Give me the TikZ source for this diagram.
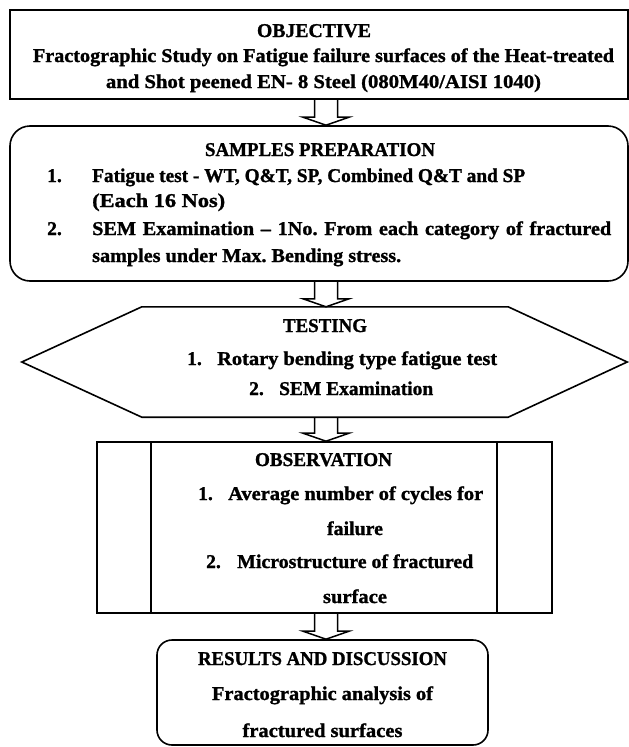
\documentclass[tikz,border=0pt]{standalone}
\usepackage{fontspec}
\setmainfont{Liberation Serif}[BoldFeatures={FakeBold=1.2}]
\usetikzlibrary{calc}
\newcommand{\W}[2]{\resizebox{#1pt}{\height}{#2}}
\frenchspacing
\begin{document}
\begin{tikzpicture}[x=1pt,y=-1pt,
  box/.style={draw, line width=1.6pt, inner sep=0pt},
  shp/.style={draw, line width=1.6pt, line join=miter},
  txt/.style={font=\bfseries\fontsize{19.5}{22}\selectfont, inner sep=0pt},
  barrow/.style={draw, line width=1.5pt, line join=miter}]
\useasboundingbox (0,0) rectangle (629,747);
\fill[white] (0,0) rectangle (629,747);
% shapes
\node[box, minimum width=618pt, minimum height=89pt] (obj) at (319,54.5) {};
\node[box, rounded corners=20pt, minimum width=618pt, minimum height=155pt] (samp) at (319,203.5) {};
\node[inner sep=0pt, minimum width=366pt, minimum height=110pt] (test) at (325,362) {};
\draw[shp] (test.north west) -- (test.north east) -- ($(test.east)+(119,0)$) -- (test.south east)
  -- (test.south west) -- ($(test.west)+(-120,0)$) -- cycle;
\node[box, minimum width=455pt, minimum height=171pt] (obs) at (324.5,527.5) {};
\draw[shp] ($(obs.north west)+(55,0)$) -- ($(obs.south west)+(55,0)$);
\draw[shp] ($(obs.north east)+(-56,0)$) -- ($(obs.south east)+(-56,0)$);
\node[box, rounded corners=15pt, minimum width=331pt, minimum height=105pt] (res) at (322.5,692.5) {};
% arrows
\coordinate (ax) at (326,0);
\newcommand{\barr}[2]{%
  \draw[barrow] ($(#1.south -| ax)+(-11.5,0)$) -- ($(#2.north -| ax)+(-11.5,-8)$) -- ++(-11.5,0)
    -- (#2.north -| ax) -- ($(#2.north -| ax)+(23,-8)$) -- ++(-11.5,0) -- ($(#1.south -| ax)+(11.5,0)$);}
\barr{obj}{samp}
\barr{samp}{test}
\barr{test}{obs}
\barr{obs}{res}
% texts
\node[txt, anchor=base] (objt) at (314,37) {\W{114}{OBJECTIVE}};
\node[txt, anchor=base] (obj1) at (323.5,62) {\W{581}{Fractographic Study on Fatigue failure surfaces of the Heat-treated}};
\node[txt, anchor=base] (obj2) at (323.5,88) {\W{435}{and Shot peened EN- 8 Steel (080M40/AISI 1040)}};

\node[txt, anchor=base] (sampt) at (320,156) {\W{230}{SAMPLES PREPARATION}};
\node[txt, anchor=base west] (s1n) at (47,182) {1.};
\node[txt, anchor=base west] (s1) at (92,182) {\W{433}{Fatigue test - WT, Q\&T, SP, Combined Q\&T and SP}};
\node[txt, anchor=base west] (s1b) at (92,207) {\W{133}{(Each 16 Nos)}};
\node[txt, anchor=base west] (s2n) at (47,235) {2.};
\node[txt, anchor=base west] (s2) at (92,235) {\W{519}{\makebox[500pt][s]{SEM Examination – 1No. From each category of fractured}}};
\node[txt, anchor=base west] (s2b) at (92,262) {\W{309}{samples under Max. Bending stress.}};

\node[txt, anchor=base] (testt) at (325,332) {\W{84}{TESTING}};
\node[txt, anchor=base west] (t1n) at (187,365) {1.};
\node[txt, anchor=base west] (t1) at (217,365) {\W{280}{Rotary bending type fatigue test}};
\node[txt, anchor=base west] (t2n) at (249,395) {2.};
\node[txt, anchor=base west] (t2) at (279,395) {\W{154}{SEM Examination}};

\node[txt, anchor=base] (obst) at (323.5,466) {\W{137}{OBSERVATION}};
\node[txt, anchor=base west] (o1n) at (198,500) {1.};
\node[txt, anchor=base west] (o1) at (228,500) {\W{255}{Average number of cycles for}};
\node[txt, anchor=base] (o1b) at (355,535) {\W{56}{failure}};
\node[txt, anchor=base west] (o2n) at (206,568) {2.};
\node[txt, anchor=base west] (o2) at (237,568) {\W{236}{Microstructure of fractured}};
\node[txt, anchor=base] (o2b) at (355,603) {\W{64}{surface}};

\node[txt, anchor=base] (rest) at (322.5,665) {\W{249}{RESULTS AND DISCUSSION}};
\node[txt, anchor=base] (res1) at (322.5,700) {\W{221}{Fractographic analysis of}};
\node[txt, anchor=base] (res2) at (322.5,737) {\W{160}{fractured surfaces}};
\end{tikzpicture}
\end{document}
